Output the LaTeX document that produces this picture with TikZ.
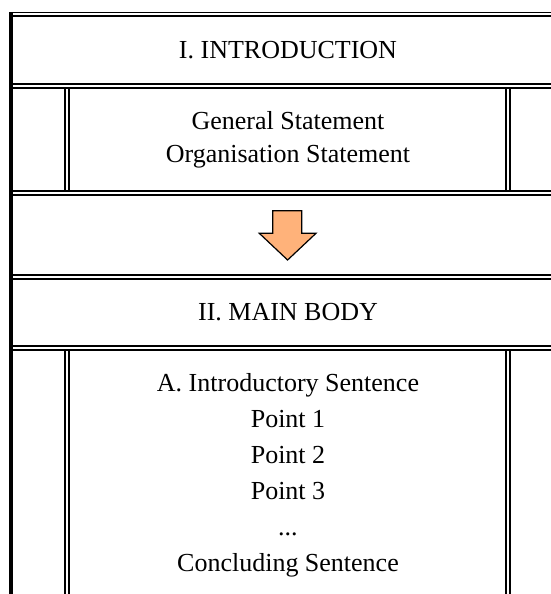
\documentclass[tikz,border=0pt]{standalone}
\usepackage{fontspec}
\setmainfont{Liberation Serif}
\usepackage{tikz}

\definecolor{arrowfill}{RGB}{255,178,122}
\tikzset{
  cellline/.style={line width=1.5pt},
  celltext/.style={inner sep=0.75pt, align=center, font=\fontsize{19.5}{24.75}\selectfont},
  bodytext/.style={inner sep=0.75pt, align=center, font=\fontsize{19.5}{27}\selectfont}
}

\begin{document}
\begin{tikzpicture}[x=0.75pt,y=0.75pt,yscale=-1,xscale=1]
\useasboundingbox (0,0) rectangle (551,594);
\clip (0,0) rectangle (551,594);

%Straight Lines: frame top
\draw [line width=1.1pt]  (9.3,12.7) -- (560,12.7) ;
\draw [line width=1.2pt]  (12.7,15.9) -- (560,15.9) ;
%Straight Lines: frame left
\draw [line width=2.7pt]  (10.9,12) -- (10.9,600) ;

%Straight Lines: row 1 / row 2
\draw [cellline]  (12.7,84) -- (560,84) ;
\draw [cellline]  (12.7,87.7) -- (560,87.7) ;
%Straight Lines: row 2 / row 3
\draw [cellline]  (12.7,191) -- (560,191) ;
\draw [cellline]  (12.7,194.8) -- (560,194.8) ;
%Straight Lines: row 3 / row 4
\draw [cellline]  (12.7,274.7) -- (560,274.7) ;
\draw [cellline]  (12.7,278.7) -- (560,278.7) ;
%Straight Lines: row 4 / row 5
\draw [cellline]  (12.7,345.7) -- (560,345.7) ;
\draw [cellline]  (12.7,349.7) -- (560,349.7) ;

%Straight Lines: row 2 inner cell
\draw [cellline]  (65,87.7) -- (65,191) ;
\draw [cellline]  (69,87.7) -- (69,191) ;
\draw [cellline]  (505.7,87.7) -- (505.7,191) ;
\draw [cellline]  (509.5,87.7) -- (509.5,191) ;
%Straight Lines: row 5 inner cell
\draw [cellline]  (65,349.7) -- (65,600) ;
\draw [cellline]  (69,349.7) -- (69,600) ;
\draw [cellline]  (505.7,349.7) -- (505.7,600) ;
\draw [cellline]  (509.5,349.7) -- (509.5,600) ;

%Shape: Down Arrow
\draw [fill=arrowfill, line width=0.9pt, line join=miter]  (272.7,210.7) -- (301.7,210.7) -- (301.7,233.3) -- (316,233.3) -- (287.6,260) -- (259.3,233.3) -- (272.7,233.3) -- cycle ;

% Text Node
\draw (288,50) node [celltext] (intro) {I. INTRODUCTION};
% Text Node
\draw (288,140) node [celltext] (statements) {General Statement\\Organisation Statement};
% Text Node
\draw (288,312) node [celltext] (mainbody) {II. MAIN BODY};
% Text Node
\draw (288,475) node [bodytext] (paragraph) {A. Introductory Sentence\\Point 1\\Point 2\\Point 3\\...\\Concluding Sentence};

\end{tikzpicture}
\end{document}
